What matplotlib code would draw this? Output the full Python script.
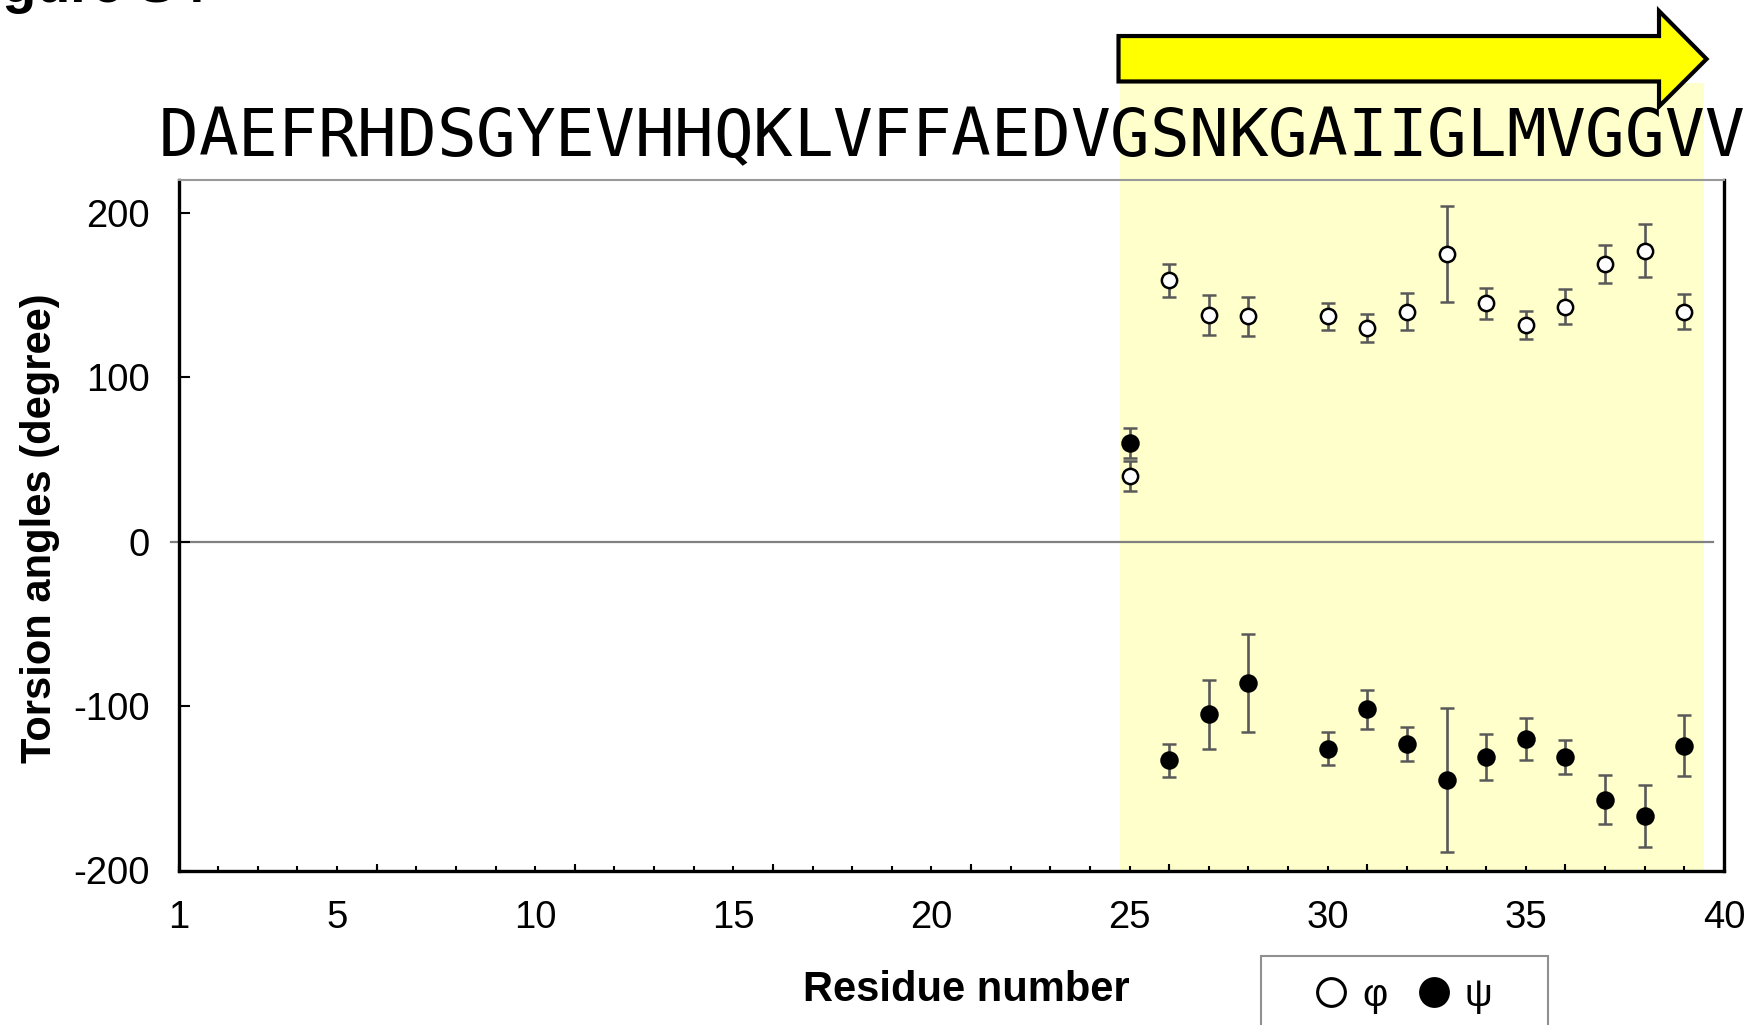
import matplotlib
matplotlib.use('Agg')
import matplotlib.pyplot as plt
from matplotlib.patches import Rectangle, Polygon
from matplotlib.lines import Line2D
import matplotlib.transforms as mtransforms

plt.rcParams['font.family'] = ['Liberation Sans', 'DejaVu Sans']

# ---------------- data ----------------
sequence = "DAEFRHDSGYEVHHQKLVFFAEDVGSNKGAIIGLMVGGVV"
residues = [25, 26, 27, 28, 30, 31, 32, 33, 34, 35, 36, 37, 38, 39]
phi = [40, 159, 138, 137, 137, 130, 140, 175, 145, 132, 143, 169, 177, 140]
phi_err = [9, 10, 12, 12, 8, 8.5, 11.5, 29, 9.5, 8.5, 10.5, 11.5, 16, 10.5]
psi = [60, -133, -105, -86, -126, -102, -123, -145, -131, -120, -131, -157, -167, -124]
psi_err = [9, 10, 21, 30, 10, 12, 10.5, 44, 14, 13, 10.5, 15, 19, 18.5]
xtick_labels = [1, 5, 10, 15, 20, 25, 30, 35, 40]
ytick_values = [-200, -100, 0, 100, 200]
legend_labels = ['φ', 'ψ']
strand_start, strand_end = 24.75, 39.5

# ---------------- figure ----------------
W, H = 1750, 1025
fig = plt.figure(figsize=(W / 100, H / 100), dpi=100)
ax_left, ax_right, ax_top, ax_bottom = 178.6, 1724, 180, 870.5
ax = fig.add_axes([ax_left / W, 1 - ax_bottom / H, (ax_right - ax_left) / W, (ax_bottom - ax_top) / H])
ax.set_xlim(1, 40)
ax.set_ylim(-200, 220)

trans = mtransforms.blended_transform_factory(ax.transData, ax.transAxes)

# shaded beta-strand region
ax.add_patch(Rectangle((strand_start, 0), strand_end - strand_start, 1.1405, transform=trans,
                       facecolor='#FFFFCC', edgecolor='none', clip_on=False, zorder=0))

# arrow
arrow_pts = [(24.72, 1.1427), (38.36, 1.1427), (38.36, 1.1064), (39.56, 1.1752),
             (38.36, 1.2448), (38.36, 1.2085), (24.72, 1.2085)]
ax.add_patch(Polygon(arrow_pts, closed=True, transform=trans, facecolor='#FFFF00',
                     edgecolor='black', lw=3, joinstyle='miter', clip_on=False, zorder=5))

# sequence
for i, aa in enumerate(sequence, start=1):
    ax.text(i, 1.0348, aa, transform=trans, ha='center', va='baseline',
            fontsize=47.5, family='DejaVu Sans Mono', zorder=6, clip_on=False)

# zero line
ax.axhline(0, xmin=-0.005, xmax=0.993, color='#808080', lw=1.6, clip_on=False, zorder=1)

# data
ax.errorbar(residues, phi, yerr=phi_err, fmt='o', ms=11, mfc='white', mec='black', mew=1.8,
            ecolor='#595959', elinewidth=1.9, capsize=5, capthick=1.9, zorder=4)
ax.errorbar(residues, psi, yerr=psi_err, fmt='o', ms=11.5, mfc='black', mec='black', mew=1.8,
            ecolor='#595959', elinewidth=1.9, capsize=5, capthick=1.9, zorder=4)

# spines
for s in ['left', 'bottom', 'right']:
    ax.spines[s].set_color('black')
    ax.spines[s].set_linewidth(2.4)
ax.spines['top'].set_color('#999999')
ax.spines['top'].set_linewidth(1.5)

# ticks
ax.xaxis.remove_overlapping_locs = False
ax.set_xticks(xtick_labels)
ax.set_xticklabels([str(v) for v in xtick_labels])
ax.set_xticks(range(1, 41), minor=True)
ax.tick_params(axis='x', which='major', length=0, pad=21, labelsize=27.5)
ax.tick_params(axis='x', which='minor', direction='in', length=3.6, width=1.5, color='black')
ax.set_yticks(ytick_values)
ax.set_yticklabels([str(v) for v in ytick_values])
ax.tick_params(axis='y', which='major', direction='in', length=8, width=1.5, pad=21, labelsize=27.5)

sec = ax.secondary_xaxis('bottom')
sec.set_xticks(list(range(1, 40, 5)))
sec.tick_params(direction='in', length=5.2, width=1.5, labelbottom=False)
sec.spines['bottom'].set_visible(False)

# axis labels
fig.text(51 / W, 1 - 528 / H, 'Torsion angles (degree)', rotation=90, rotation_mode='anchor',
         ha='center', va='baseline', fontsize=30, fontweight='bold')
fig.text(966 / W, 1 - 1001 / H, 'Residue number', ha='center', va='baseline',
         fontsize=30, fontweight='bold')

# cut-off figure title
fig.text(-47 / W, 1 - 2 / H, 'Figure S4', ha='left', va='baseline', fontsize=40, fontweight='bold')

# legend
fig.patches.append(Rectangle((1261 / W, -0.05), (1548 - 1261) / W, (1025 - 956) / H + 0.05,
                             transform=fig.transFigure, fill=False, edgecolor='#909090', lw=1.5))
handles = [Line2D([], [], ls='none', marker='o', ms=20, mfc='white', mec='black', mew=2.2),
           Line2D([], [], ls='none', marker='o', ms=20, mfc='black', mec='black', mew=2.2)]
fig.legend(handles, legend_labels, loc='center', bbox_to_anchor=(1402 / W, 1 - 995.7 / H),
           ncol=2, frameon=False, fontsize=28, handlelength=1.0, handletextpad=0.3,
           columnspacing=0.7, borderpad=0, borderaxespad=0)

fig.savefig('out.png', dpi=100)
